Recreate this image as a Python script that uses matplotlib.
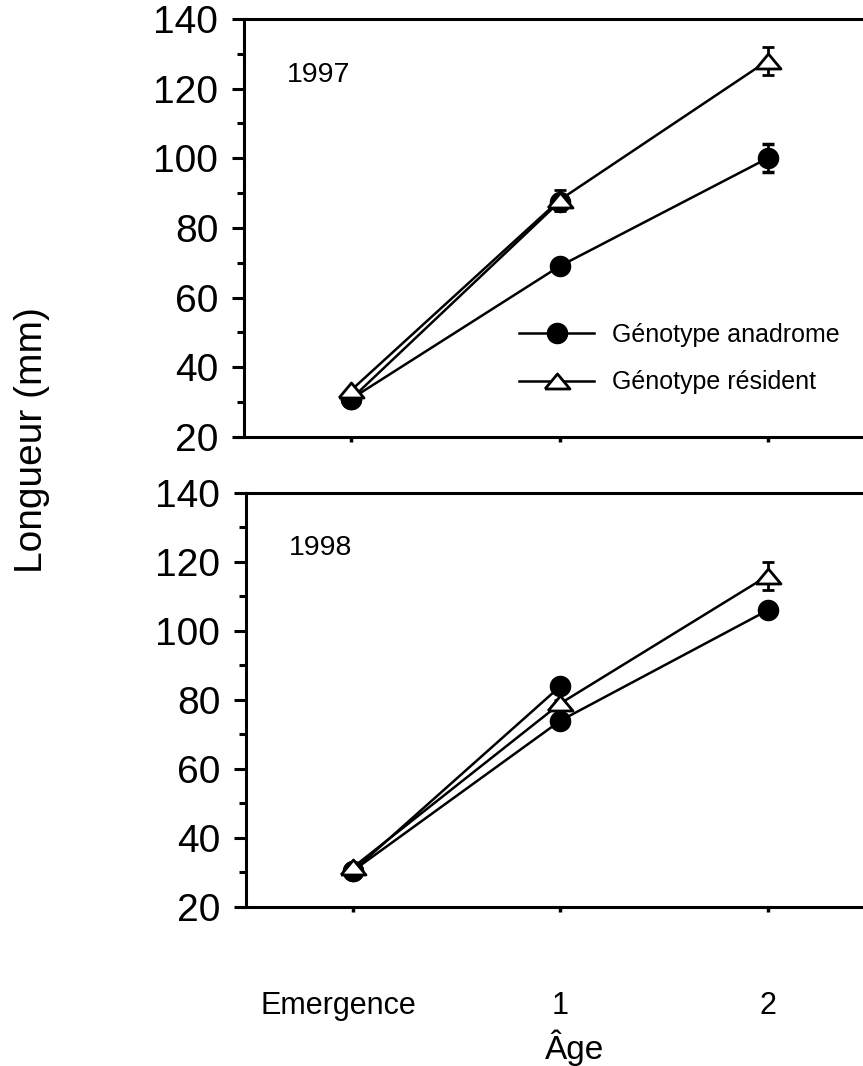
"""
Longueur selon l'âge — génotypes anadrome et résident (1997, 1998)
"""

import numpy as np
import matplotlib
matplotlib.use("Agg")
import matplotlib.pyplot as plt
from matplotlib.lines import Line2D
from matplotlib.transforms import ScaledTranslation

plt.rcParams["font.family"] = ["Liberation Sans", "DejaVu Sans"]

# ── Données ───────────────────────────────────────────────────────────────────
AGES       = ["Emergence", "1", "2"]
YEARS      = ["1997", "1998"]

# 1997
anad_97      = [31.0, 69.0, 100.0]
anad_97_err  = [0.0, 1.5, 4.0]
anad2_97     = [31.0, 87.5, np.nan]      # second groupe anadrome, suivi jusqu'à 1 an
resid_97     = [33.5, 88.0, 128.0]
resid_97_err = [0.0, 3.0, 4.0]

# 1998
anad_98      = [30.5, 74.0, 106.0]
anad_98_err  = [0.0, 1.0, 1.5]
anad2_98     = [30.5, 84.0, np.nan]
resid_98     = [31.5, 79.0, 116.0]
resid_98_err = [0.0, 1.0, 4.0]

LABEL_ANAD  = "Génotype anadrome"
LABEL_RESID = "Génotype résident"

# ── Style ─────────────────────────────────────────────────────────────────────
TRI = [(-1, -0.6), (1, -0.6), (0, 0.6), (-1, -0.6)]
LW = 1.8
circ_kw = dict(marker="o", ms=14.5, mfc="black", mec="black", color="black", lw=LW)
tri_kw  = dict(marker=TRI, ms=18, mfc="white", mec="black", mew=2.0, color="black", lw=LW)
err_kw  = dict(ecolor="black", elinewidth=2.0, capsize=4.5, capthick=2.5)

X_SPINE = -0.517    # position de l'axe vertical
XLIM    = (-0.56, 2.459)

fig = plt.figure(figsize=(8.63, 10.66), dpi=100)
ax_top = fig.add_axes([235 / 863, 0.5901, 1 - 235 / 863, 0.3921])
ax_bot = fig.add_axes([237 / 863, 0.1492, 1 - 237 / 863, 0.3884])

x = np.arange(len(AGES))

panels = [
    (ax_top, YEARS[0], anad_97, anad_97_err, anad2_97, resid_97, resid_97_err),
    (ax_bot, YEARS[1], anad_98, anad_98_err, anad2_98, resid_98, resid_98_err),
]

for ax, year, anad, anad_err, anad2, resid, resid_err in panels:
    ax.plot(x, anad2, zorder=3, **circ_kw)
    ax.errorbar(x, anad, yerr=anad_err, zorder=4, **circ_kw, **err_kw)
    ax.errorbar(x, resid, yerr=resid_err, zorder=5, **tri_kw, **err_kw)

    ax.set_xlim(*XLIM)
    ax.set_ylim(20, 140)
    ax.set_yticks(np.arange(20, 141, 20))
    ax.set_yticks(np.arange(30, 140, 20), minor=True)
    ax.set_xticks(x)

    ax.spines["right"].set_visible(False)
    ax.spines["left"].set_position(("data", X_SPINE))
    ax.spines["top"].set_bounds(X_SPINE, XLIM[1])
    for s in ["left", "top", "bottom"]:
        ax.spines[s].set_linewidth(2.2)

    ax.tick_params(axis="y", which="major", direction="out", length=8.5, width=2.2,
                   labelsize=28, pad=10)
    ax.tick_params(axis="y", which="minor", direction="out", length=5, width=2.2)
    ax.tick_params(axis="x", direction="out", length=3.5, width=2.5)

    ax.text(-0.31, 124, year, fontsize=20.5, va="center", ha="left")

ax_top.set_xticklabels([])
ax_bot.set_xticklabels(AGES, fontsize=22)
ax_bot.tick_params(axis="x", pad=57)
# "Emergence" légèrement décalé vers la gauche
lbl = ax_bot.get_xticklabels()[0]
lbl.set_transform(lbl.get_transform() + ScaledTranslation(-0.15, 0, fig.dpi_scale_trans))

# ── Légende ───────────────────────────────────────────────────────────────────
handles = [Line2D([], [], **circ_kw), Line2D([], [], **tri_kw)]
ax_top.legend(handles, [LABEL_ANAD, LABEL_RESID], loc="center left",
              bbox_to_anchor=(519 / 863, 1 - 358.5 / 1066), bbox_transform=fig.transFigure,
              frameon=False, fontsize=18, handlelength=3.0, handletextpad=0.7,
              labelspacing=0.95, borderpad=0, borderaxespad=0)

fig.text(575 / 863, 1 - 1048 / 1066, "Âge", fontsize=24, ha="center", va="center")
fig.text(32 / 863, 1 - 440 / 1066, "Longueur (mm)", fontsize=28, rotation=90,
         ha="center", va="center")

fig.savefig("out.png", dpi=100)
